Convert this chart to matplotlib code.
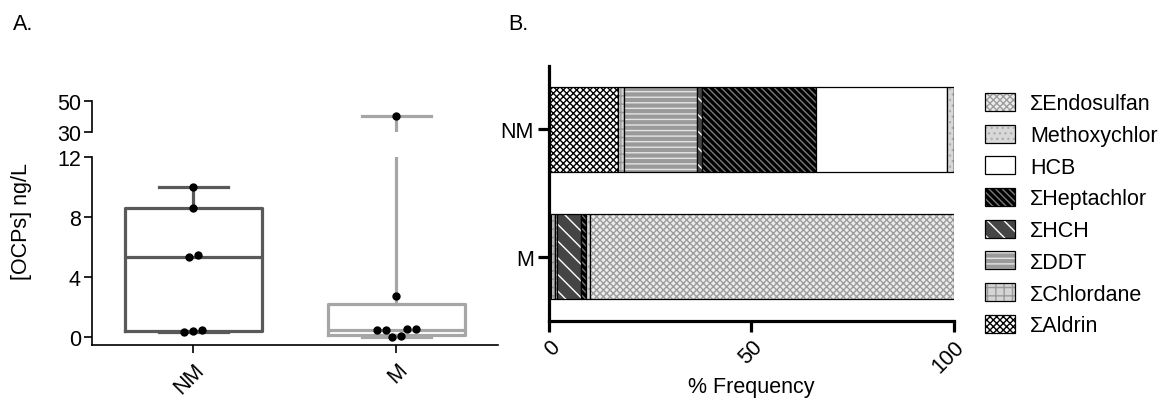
import numpy as np
import matplotlib
matplotlib.use('Agg')
import matplotlib.pyplot as plt
import matplotlib.patches as mpatches
from matplotlib.legend_handler import HandlerTuple

plt.rcParams['font.family'] = ['Liberation Sans', 'DejaVu Sans']
plt.rcParams['font.size'] = 15.5
plt.rcParams['hatch.linewidth'] = 1.0

# Panel A: OCP concentrations (ng/L)
groups = ['NM', 'M']
conc_nm = [0.35, 0.4, 0.45, 5.3, 5.45, 8.6, 10.0]
conc_m = [0.0, 0.02, 0.45, 0.45, 0.5, 0.5, 2.7, 40.0]
box_colors = ['#595959', '#a6a6a6']

# Panel B: % frequency of each pesticide class
bar_groups = ['M', 'NM']
pesticides = ['ΣAldrin', 'ΣChlordane', 'ΣDDT', 'ΣHCH', 'ΣHeptachlor',
              'HCB', 'Methoxychlor', 'ΣEndosulfan']
share_m = [0.6, 1.0, 0.3, 6.0, 1.3, 0.0, 0.9, 89.9]
share_nm = [17.0, 1.5, 18.0, 1.2, 28.2, 32.5, 1.6, 0.0]

# face colour, hatch, hatch colour
styles = {
    'ΣAldrin': ('white', 'xxxxx', 'black'),
    'ΣChlordane': ('#d4d4d4', '++', '#9a9a9a'),
    'ΣDDT': ('#9a9a9a', '---', '#e4e4e4'),
    'ΣHCH': ('#454545', '\\\\', 'white'),
    'ΣHeptachlor': ('black', '\\\\\\\\\\', '#7a7a7a'),
    'HCB': ('white', '', 'white'),
    'Methoxychlor': ('#d8d8d8', '...', '#b0b0b0'),
    'ΣEndosulfan': ('#ececec', 'xxxxx', '#9c9c9c'),
}

fig = plt.figure(figsize=(11.66, 4.06), dpi=100)

# ---- Panel A: broken-axis box plot ----
ax_lo = fig.add_axes([0.0789, 0.1485, 0.3482, 0.4631])
ax_hi = fig.add_axes([0.0789, 0.6717, 0.3482, 0.0778])
ax_lo.set_xlim(0.5, 2.5)
ax_hi.set_xlim(0.5, 2.5)
ax_lo.set_ylim(-0.53, 12)
ax_hi.set_ylim(30, 50)


def box_stats(vals):
    q1, med, q3 = np.percentile(vals, [25, 50, 75], method='weibull')
    return dict(med=med, q1=q1, q3=q3, whislo=min(vals), whishi=max(vals), fliers=[])


def swarm(vals, ppu, d=9.0, tol=3.0):
    # simple symmetric beeswarm, offsets in pixels
    vals = np.asarray(vals, float)
    order = np.argsort(vals)
    offs = np.zeros(len(vals))
    placed = []
    i = 0
    while i < len(order):
        j = i
        while j + 1 < len(order) and (vals[order[j + 1]] - vals[order[i]]) * ppu < tol:
            j += 1
        idx = order[i:j + 1]
        k = len(idx)
        base = (np.arange(k) - (k - 1) / 2) * d
        s = 0.0
        while True:
            xs = base + np.sign(base) * s
            ok = True
            for x, ii in zip(xs, idx):
                y = vals[ii] * ppu
                for px, py in placed:
                    if np.hypot(x - px, y - py) < d * 0.98:
                        ok = False
                        break
                if not ok:
                    break
            if ok or s > 100:
                break
            s += 0.5
        for x, ii in zip(xs, idx):
            offs[ii] = x
            placed.append((x, vals[ii] * ppu))
        i = j + 1
    return offs


fig.canvas.draw()
p0 = ax_lo.transData.transform((0, 0))
p1 = ax_lo.transData.transform((1, 1))
ppx, ppy = p1 - p0

for pos, vals, col in zip([1, 2], [conc_nm, conc_m], box_colors):
    st = box_stats(vals)
    for ax in (ax_lo, ax_hi):
        ax.bxp([st], positions=[pos], widths=0.67, showfliers=False,
               boxprops=dict(color=col, lw=2.3),
               medianprops=dict(color=col, lw=2.3),
               whiskerprops=dict(color=col, lw=2.3),
               capprops=dict(color=col, lw=2.3), manage_ticks=False)
    offs = swarm(vals, ppy)
    xs = pos + offs / ppx
    for ax in (ax_lo, ax_hi):
        ax.scatter(xs, vals, s=36, color='black', zorder=5, linewidths=0)

for ax in (ax_lo, ax_hi):
    ax.spines['top'].set_visible(False)
    ax.spines['right'].set_visible(False)
    ax.spines['left'].set_linewidth(1.2)
    ax.tick_params(axis='y', length=6, width=1.2, pad=2)
ax_hi.spines['bottom'].set_visible(False)
ax_hi.set_xticks([])
ax_hi.set_yticks([30, 50])
ax_lo.spines['bottom'].set_linewidth(1.2)
ax_lo.set_yticks([0, 4, 8, 12])
ax_lo.set_xticks([1, 2])
ax_lo.set_xticklabels(groups, rotation=45, ha='right', rotation_mode='anchor')
ax_lo.tick_params(axis='x', length=6, width=1.2, pad=4)
fig.text(21 / 1166, 1 - 221.5 / 406, '[OCPs] ng/L', rotation=90,
         ha='center', va='center')

# ---- Panel B: stacked horizontal bars ----
axb = fig.add_axes([0.4708, 0.2076, 0.3473, 0.6281])
ypos = np.arange(len(bar_groups))
data = np.array([share_m, share_nm])
left = np.zeros(len(bar_groups))
handles = []
for k, name in enumerate(pesticides):
    face, hatch, hcol = styles[name]
    w = data[:, k]
    axb.barh(ypos, w, left=left, height=0.667, color=face, hatch=hatch,
             edgecolor=hcol, linewidth=0)
    axb.barh(ypos, w, left=left, height=0.667, fill=False,
             edgecolor='black', linewidth=0.9)
    left += w
    fill_h = mpatches.Patch(facecolor=face, hatch=hatch, edgecolor=hcol, linewidth=0)
    edge_h = mpatches.Patch(fill=False, edgecolor='black', linewidth=0.9)
    handles.append((fill_h, edge_h))

axb.set_xlim(0, 100)
axb.set_ylim(-0.5, 1.5)
axb.set_yticks(ypos)
axb.set_yticklabels(bar_groups)
axb.set_xticks([0, 50, 100])
axb.set_xticklabels(['0', '50', '100'], rotation=45, ha='right',
                    rotation_mode='anchor')
for s in ['top', 'right']:
    axb.spines[s].set_visible(False)
for s in ['left', 'bottom']:
    axb.spines[s].set_linewidth(2.3)
axb.tick_params(axis='both', length=8, width=2.3, pad=3)
axb.set_xlabel('% Frequency')
axb.xaxis.set_label_coords(0.5, -0.215)

fig.legend(handles[::-1], pesticides[::-1], loc='upper left',
           bbox_to_anchor=(985 / 1166, 1 - 94 / 406), frameon=False,
           borderpad=0, borderaxespad=0, handlelength=1.4, handleheight=0.9,
           handletextpad=0.7, labelspacing=0.48,
           handler_map={tuple: HandlerTuple(ndivide=1)})

fig.text(13 / 1166, 1 - 25 / 406, 'A.', ha='left', va='center')
fig.text(508 / 1166, 1 - 25 / 406, 'B.', ha='left', va='center')

fig.savefig('out.png', dpi=100)
